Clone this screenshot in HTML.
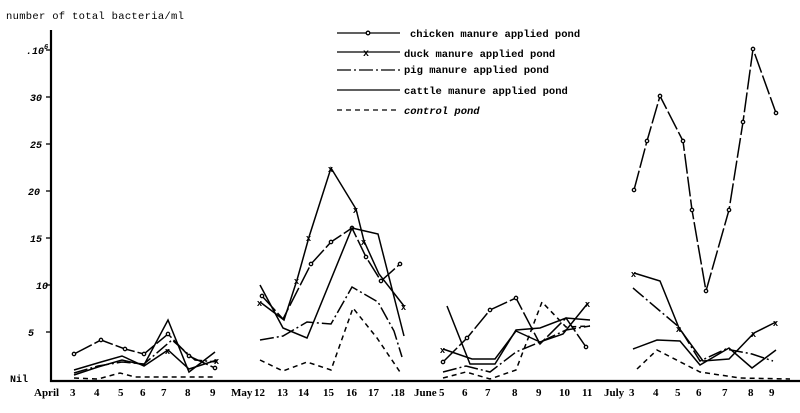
<!DOCTYPE html>
<html><head><meta charset="utf-8"><style>
body{margin:0;background:#fff;}
svg{display:block;font-family:"Liberation Mono",monospace;font-weight:bold;}
</style></head><body>
<svg width="800" height="413" viewBox="0 0 800 413" xmlns="http://www.w3.org/2000/svg">
<g fill="#000" font-size="11">
<text x="6" y="19" font-size="10.5" font-weight="normal" letter-spacing="0.3">number of total bacteria/ml</text>
<text x="26" y="54" font-style="italic" font-size="10">.10<tspan dy="-5" font-size="7">6</tspan></text>
<text x="30" y="101" font-style="italic" font-size="10">30</text>
<text x="30" y="148" font-style="italic" font-size="10">25</text>
<text x="28" y="195" font-style="italic" font-size="10">20</text>
<text x="30" y="242" font-style="italic" font-size="10">15</text>
<text x="36" y="289" font-style="italic" font-size="10">10</text>
<text x="28" y="336" font-style="italic" font-size="10">5</text>
<text x="10" y="382" font-size="10">Nil</text>
</g>
<g stroke="#000" fill="none">
<line x1="51" y1="30" x2="51" y2="382" stroke-width="2.2"/>
<line x1="50" y1="381" x2="800" y2="381" stroke-width="2.2"/>
<g stroke-width="1.3">
<line x1="46" y1="50" x2="51" y2="50"/><line x1="46" y1="97" x2="51" y2="97"/><line x1="46" y1="144" x2="51" y2="144"/>
<line x1="46" y1="191" x2="51" y2="191"/><line x1="46" y1="238" x2="51" y2="238"/><line x1="46" y1="285" x2="51" y2="285"/><line x1="46" y1="332" x2="51" y2="332"/>
</g>
</g>
<g font-size="11" fill="#000" font-family="Liberation Serif,serif">
<text x="34" y="396">April</text>
<text x="70" y="396">3</text><text x="94" y="396">4</text><text x="118" y="396">5</text><text x="140" y="396">6</text><text x="161" y="396">7</text><text x="185" y="396">8</text><text x="210" y="396">9</text>
<text x="231" y="396">May</text>
<text x="254" y="396">12</text><text x="277" y="396">13</text><text x="298" y="396">14</text><text x="323" y="396">15</text><text x="346" y="396">16</text><text x="368" y="396">17</text><text x="391" y="396">.18</text>
<text x="414" y="396">June</text>
<text x="439" y="396">5</text><text x="462" y="396">6</text><text x="485" y="396">7</text><text x="512" y="396">8</text><text x="536" y="396">9</text><text x="559" y="396">10</text><text x="582" y="396">11</text>
<text x="604" y="396">July</text>
<text x="629" y="396">3</text><text x="653" y="396">4</text><text x="675" y="396">5</text><text x="696" y="396">6</text><text x="722" y="396">7</text><text x="748" y="396">8</text><text x="769" y="396">9</text>
</g>
<g stroke="#000" fill="none" stroke-width="1.3">
<line x1="337" y1="33" x2="400" y2="33"/><circle cx="368" cy="33" r="1.8" fill="#fff"/>
<line x1="337" y1="52" x2="400" y2="52"/><text x="363" y="56" font-size="10" fill="#000" stroke="none">x</text>
<line x1="337" y1="70" x2="400" y2="70" stroke-dasharray="14,3,2,3"/>
<line x1="337" y1="90" x2="400" y2="90"/>
<line x1="337" y1="110" x2="400" y2="110" stroke-dasharray="5,4"/>
</g>
<g font-size="10.5" fill="#000">
<text x="410" y="37">chicken manure applied pond</text>
<text x="404" y="57">duck manure applied pond</text>
<text x="404" y="73">pig manure applied pond</text>
<text x="404" y="94">cattle manure applied pond</text>
<text x="404" y="114" font-style="italic">control pond</text>
</g>
<g stroke="#000" fill="none" stroke-width="1.5">
<g stroke-dasharray="20,3">
<polyline points="74,354 101,340 125,349 144,354 168,334 189,356 215,368"/>
<polyline points="262,296 283,319 311,264 331,242 352,228 366,257 381,281 400,264"/>
<polyline points="443,362 467,338 490,310 516,298 540,344 566,318 586,347"/>
<polyline points="634,190 647,141 660,96 683,141 692,210 706,291 729,210 743,122 753,49 776,113"/>
</g>
<g fill="#fff" stroke-width="1.3">
<circle cx="74" cy="354" r="1.7"/><circle cx="101" cy="340" r="1.7"/><circle cx="125" cy="349" r="1.7"/><circle cx="144" cy="354" r="1.7"/><circle cx="168" cy="334" r="1.7"/><circle cx="189" cy="356" r="1.7"/><circle cx="215" cy="368" r="1.7"/>
<circle cx="262" cy="296" r="1.7"/><circle cx="311" cy="264" r="1.7"/><circle cx="331" cy="242" r="1.7"/><circle cx="352" cy="228" r="1.7"/><circle cx="366" cy="257" r="1.7"/><circle cx="381" cy="281" r="1.7"/><circle cx="400" cy="264" r="1.7"/>
<circle cx="443" cy="362" r="1.7"/><circle cx="467" cy="338" r="1.7"/><circle cx="490" cy="310" r="1.7"/><circle cx="516" cy="298" r="1.7"/><circle cx="586" cy="347" r="1.7"/>
<circle cx="634" cy="190" r="1.7"/><circle cx="647" cy="141" r="1.7"/><circle cx="660" cy="96" r="1.7"/><circle cx="683" cy="141" r="1.7"/><circle cx="692" cy="210" r="1.7"/><circle cx="706" cy="291" r="1.7"/><circle cx="729" cy="210" r="1.7"/><circle cx="743" cy="122" r="1.7"/><circle cx="753" cy="49" r="1.7"/><circle cx="776" cy="113" r="1.7"/>
</g>
<polyline points="74,370 101,362 122,356 144,366 168,350 189,369 217,360"/>
<polyline points="260,302 284,320 297,280 309,237 331,168 356,209 364,241 379,274 404,306"/>
<polyline points="443,349 472,359 495,359 516,331 540,342 563,334 588,303"/>
<polyline points="634,273 660,281 679,328 703,361 729,359 754,333 776,322"/>
<g font-size="9" fill="#000" stroke="none" font-family="Liberation Sans,sans-serif">
<text x="328" y="172">x</text><text x="353" y="213">x</text><text x="306" y="241">x</text><text x="294" y="284">x</text><text x="361" y="245">x</text><text x="401" y="310">x</text><text x="257" y="306">x</text>
<text x="440" y="353">x</text><text x="585" y="307">x</text><text x="631" y="277">x</text><text x="676" y="332">x</text><text x="751" y="337">x</text><text x="773" y="326">x</text><text x="214" y="364">x</text><text x="165" y="354">x</text>
</g>
<g stroke-dasharray="14,3,2,3">
<polyline points="74,373 98,366 122,362 144,364 172,340 195,360 217,362"/>
<polyline points="260,340 283,336 307,322 331,324 352,287 378,302 394,331 402,357"/>
<polyline points="443,372 466,366 490,372 516,352 540,342 566,330 590,326"/>
<polyline points="633,288 660,311 679,327 700,361 726,349 752,354 773,361"/>
</g>
<polyline points="74,375 98,367 122,360 144,365 168,320 189,372 215,352"/>
<polyline points="260,285 283,328 307,338 352,228 378,234 404,336"/>
<polyline points="447,306 470,364 495,364 516,330 540,328 566,318 590,320"/>
<polyline points="633,349 657,340 680,341 700,365 729,348 752,368 776,350"/>
<g stroke-dasharray="5,4">
<polyline points="74,378 98,379 120,373 135,377 216,377"/>
<polyline points="260,360 283,371 307,362 331,370 353,308 377,338 400,372"/>
<polyline points="443,378 466,372 490,379 516,370 542,302 566,327 590,326"/>
<polyline points="637,369 657,350 700,372 740,378 790,379"/>
</g>
</g>
</svg>
</body></html>
